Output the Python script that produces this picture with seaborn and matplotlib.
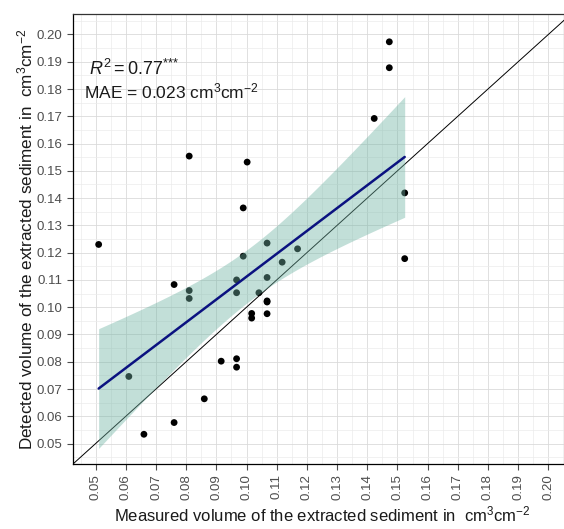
import numpy as np
import pandas as pd
import matplotlib
matplotlib.use("Agg")
import matplotlib.pyplot as plt
import seaborn as sns
from matplotlib.ticker import MultipleLocator, FormatStrFormatter

measured = [0.051, 0.061, 0.066, 0.076, 0.076, 0.081, 0.081, 0.081, 0.086, 0.0916,
            0.0967, 0.0967, 0.0967, 0.0967, 0.0989, 0.0989, 0.1002, 0.1017, 0.1017,
            0.1041, 0.1068, 0.1068, 0.1068, 0.1068, 0.1068, 0.1118, 0.1169, 0.1423,
            0.1473, 0.1473, 0.1524, 0.1524]
detected = [0.123, 0.0746, 0.0534, 0.0577, 0.1083, 0.1554, 0.1061, 0.1032, 0.0664, 0.0802,
            0.0811, 0.0780, 0.1100, 0.1053, 0.1364, 0.1187, 0.1532, 0.0977, 0.0960,
            0.1053, 0.1235, 0.1109, 0.1023, 0.1019, 0.0976, 0.1165, 0.1214, 0.1692,
            0.1973, 0.1878, 0.1419, 0.1178]
ticks = [0.05, 0.06, 0.07, 0.08, 0.09, 0.10, 0.11, 0.12, 0.13, 0.14, 0.15, 0.16,
         0.17, 0.18, 0.19, 0.20]

df = pd.DataFrame({"measured": measured, "detected": detected})

sns.set_style("white")
plt.rcParams["font.family"] = ["Liberation Sans", "DejaVu Sans"]
plt.rcParams["mathtext.fontset"] = "custom"
plt.rcParams["mathtext.rm"] = "Liberation Sans"
plt.rcParams["mathtext.it"] = "Liberation Sans:italic"

fig = plt.figure(figsize=(5.64, 5.29), dpi=100)
ax = fig.add_axes([73/564, 65/529, 498/564, 450/529])

lo, hi = 0.0425, 0.2075
ax.set_xlim(lo, hi)
ax.set_ylim(lo, hi)

ax.xaxis.set_minor_locator(MultipleLocator(0.005))
ax.yaxis.set_minor_locator(MultipleLocator(0.005))
ax.set_xticks(ticks)
ax.set_yticks(ticks)
ax.xaxis.set_major_formatter(FormatStrFormatter("%.2f"))
ax.yaxis.set_major_formatter(FormatStrFormatter("%.2f"))
ax.grid(which="major", color="#dadada", lw=0.6)
ax.grid(which="minor", color="#ebebeb", lw=0.5)
ax.set_axisbelow(True)

ax.plot([lo, hi], [lo, hi], color="black", lw=0.7, zorder=1.5)

# scatter + fitted line via seaborn
sns.regplot(data=df, x="measured", y="detected", ax=ax, ci=None,
            scatter_kws=dict(s=24, color="black", edgecolor="none", alpha=1, zorder=1.6),
            line_kws=dict(color="#0b1280", lw=1.8, zorder=3))

# analytic 95% confidence band of the linear fit (as in geom_smooth(method="lm"))
x = np.asarray(measured)
y = np.asarray(detected)
n = len(x)
slope, intercept = np.polyfit(x, y, 1)
resid = y - (intercept + slope * x)
s = np.sqrt(np.sum(resid ** 2) / (n - 2))
sxx = np.sum((x - x.mean()) ** 2)
grid = np.linspace(x.min(), x.max(), 200)
fit = intercept + slope * grid
se = s * np.sqrt(1 / n + (grid - x.mean()) ** 2 / sxx)
tq = 2.042  # t(0.975, df=30)
ax.fill_between(grid, fit - tq * se, fit + tq * se, color="#6fb3a3", alpha=0.42,
                lw=0, zorder=2)

ax.tick_params(axis="x", rotation=90, labelsize=9.5, colors="#4d4d4d", length=4,
               direction="out", bottom=True)
ax.tick_params(axis="y", labelsize=9.5, colors="#4d4d4d", length=4,
               direction="out", left=True)
ax.tick_params(which="minor", length=0)

for sp in ["left", "bottom"]:
    ax.spines[sp].set_color("black")
    ax.spines[sp].set_linewidth(0.9)
for sp in ["top", "right"]:
    ax.spines[sp].set_color("#333333")
    ax.spines[sp].set_linewidth(0.9)

ax.set_xlabel(r"Measured volume of the extracted sediment in  $\mathregular{cm^3cm^{-2}}$",
              fontsize=12, color="#1a1a1a", labelpad=3)
ax.set_ylabel(r"Detected volume of the extracted sediment in  $\mathregular{cm^3cm^{-2}}$",
              fontsize=12.3, color="#1a1a1a", labelpad=1)

ax.text(0.0477, 0.1875, r"$\mathit{R}^2 = 0.77^{{*}{*}{*}}$", fontsize=13, color="#1a1a1a",
        va="center", ha="left")
ax.text(0.0462, 0.1792, r"MAE = 0.023 $\mathregular{cm^3cm^{-2}}$", fontsize=12.5,
        color="#1a1a1a", va="center", ha="left")

fig.savefig("out.png", dpi=100)
